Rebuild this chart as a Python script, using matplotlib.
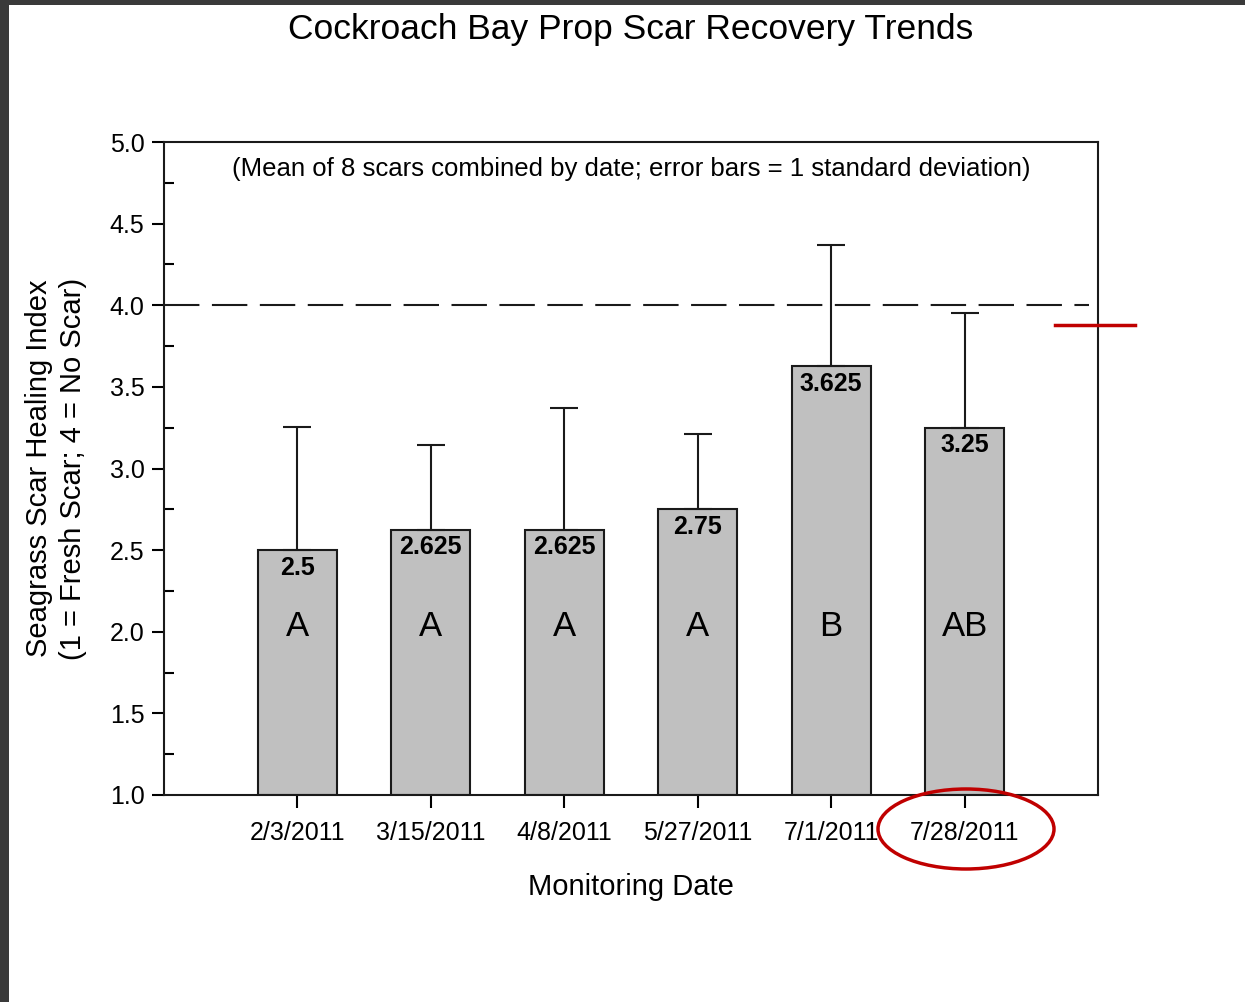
import matplotlib
matplotlib.use("Agg")
import matplotlib.pyplot as plt
from matplotlib.patches import Ellipse, Rectangle
from matplotlib.lines import Line2D
import numpy as np

plt.rcParams["font.family"] = ["Liberation Sans", "DejaVu Sans"]

dates = ["2/3/2011", "3/15/2011", "4/8/2011", "5/27/2011", "7/1/2011", "7/28/2011"]
means = [2.5, 2.625, 2.625, 2.75, 3.625, 3.25]
sds = [0.756, 0.519, 0.746, 0.461, 0.744, 0.703]
value_labels = ["2.5", "2.625", "2.625", "2.75", "3.625", "3.25"]
groups = ["A", "A", "A", "A", "B", "AB"]

fig = plt.figure(figsize=(12.45, 10.02), dpi=100)
ax = fig.add_axes([164 / 1245, 1 - 795 / 1002, (1098 - 164) / 1245, (795 - 142) / 1002])

x = np.arange(len(dates))
ax.bar(x, np.array(means) - 1.0, bottom=1.0, width=0.59, color="#c0c0c0",
       edgecolor="#1a1a1a", linewidth=1.5, zorder=2)
ax.errorbar(x, means, yerr=[np.zeros(len(sds)), sds], fmt="none", ecolor="#1a1a1a",
            elinewidth=1.5, capsize=10, capthick=1.5, zorder=3)
ax.axhline(4.0, xmax=0.99, color="#1a1a1a", linewidth=1.5, linestyle=(0, (17, 6)), zorder=1)

for xi, m, lab, g in zip(x, means, value_labels, groups):
    ax.annotate(lab, (xi, m), xytext=(0, -4), textcoords="offset points",
                ha="center", va="top", fontsize=18, fontweight="bold", zorder=4)
    ax.text(xi, 2.03, g, ha="center", va="center", fontsize=25, zorder=4)

ax.text(0.5, 0.958, "(Mean of 8 scars combined by date; error bars = 1 standard deviation)",
        transform=ax.transAxes, ha="center", va="center", fontsize=18.5)

ax.set_xlim(-1, 6)
ax.set_ylim(1.0, 5.0)
ax.set_xticks(x)
ax.set_xticklabels(dates)
ax.set_yticks(np.arange(1.0, 5.01, 0.5))
ax.set_yticks(np.arange(1.25, 5.0, 0.5), minor=True)
ax.tick_params(axis="both", which="major", direction="out", length=9, width=1.5,
               labelsize=18, pad=5)
ax.tick_params(axis="x", which="major", pad=10)
ax.tick_params(axis="y", which="minor", direction="in", length=7, width=1.5)
for s in ax.spines.values():
    s.set_linewidth(1.5)
    s.set_color("#1a1a1a")

ax.set_xlabel("Monitoring Date", fontsize=21, labelpad=20)
ax.set_ylabel("Seagrass Scar Healing Index\n(1 = Fresh Scar; 4 = No Scar)", fontsize=21,
              linespacing=1.3, labelpad=16)
fig.text(631 / 1245, 1 - 30 / 1002, "Cockroach Bay Prop Scar Recovery Trends",
         ha="center", va="center", fontsize=25.5)

# screenshot frame and red annotations
fig.patches.append(Rectangle((0, 1 - 5 / 1002), 1, 5 / 1002, transform=fig.transFigure,
                             facecolor="#3a3a3a", edgecolor="none"))
fig.patches.append(Rectangle((0, 0), 9 / 1245, 1, transform=fig.transFigure,
                             facecolor="#3a3a3a", edgecolor="none"))
fig.patches.append(Ellipse((966 / 1245, 1 - 829 / 1002), 176 / 1245, 80 / 1002,
                           transform=fig.transFigure, fill=False, edgecolor="#c00000",
                           linewidth=2.5))
fig.lines.append(Line2D([1055 / 1245, 1135 / 1245], [1 - 325 / 1002, 1 - 325 / 1002],
                        transform=fig.transFigure, color="#c00000", linewidth=2.5))

fig.savefig("out.png", dpi=100)
